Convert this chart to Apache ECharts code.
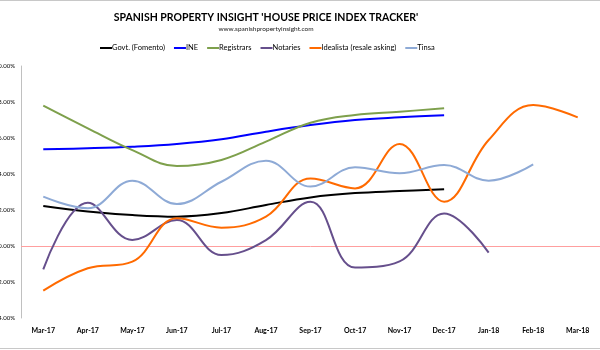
<!DOCTYPE html>
<html>
<head>
<meta charset="utf-8">
<script src="https://cdn.jsdelivr.net/npm/echarts@6/dist/echarts.min.js"></script>
<style>
html, body { margin: 0; padding: 0; background: #fff; }
#chart { width: 600px; height: 350px; }
</style>
</head>
<body>
<div id="chart"></div>
<script>
// months on the x axis
var months = ['Mar-17', 'Apr-17', 'May-17', 'Jun-17', 'Jul-17', 'Aug-17', 'Sep-17',
              'Oct-17', 'Nov-17', 'Dec-17', 'Jan-18', 'Feb-18', 'Mar-18'];

// annual change, %
var govt      = [2.22, 1.92, 1.72, 1.63, 1.83, 2.28, 2.70, 2.94, 3.05, 3.15, null, null, null];
var ine       = [5.37, 5.43, 5.52, 5.67, 5.93, 6.35, 6.72, 7.00, 7.15, 7.26, null, null, null];
var registrars = [7.80, 6.54, 5.33, 4.44, 4.78, 5.80, 6.85, 7.28, 7.46, 7.65, null, null, null];
var notaries  = [-1.30, 2.40, 0.33, 1.44, -0.50, 0.33, 2.46, -1.20, -0.85, 1.81, -0.37, null, null];
var idealista = [-2.48, -1.24, -0.87, 1.54, 1.02, 1.63, 3.75, 3.20, 5.67, 2.46, 5.89, 7.83, 7.15];
var tinsa     = [2.74, 2.10, 3.63, 2.33, 3.57, 4.74, 3.30, 4.37, 4.04, 4.50, 3.63, 4.54, null];

var names  = ['Govt. (Fomento)', 'INE', 'Registrars', 'Notaries', 'Idealista (resale asking)', 'Tinsa'];
var colors = ['#000000', '#0000ff', '#7ea04c', '#664f8c', '#ff6a00', '#8eaad6'];
var values = [govt, ine, registrars, notaries, idealista, tinsa];

var font = 'Lato, "Liberation Sans", sans-serif';

var series = values.map(function (d, i) {
    var s = {
        name: names[i],
        type: 'line',
        data: d,
        smooth: 0.4,
        symbol: 'none',
        connectNulls: false,
        lineStyle: { width: 2, color: colors[i] },
        itemStyle: { color: colors[i] },
        z: 3
    };
    if (i === 0) {
        // the pink zero line
        s.markLine = {
            silent: true,
            symbol: ['none', 'none'],
            label: { show: false },
            lineStyle: { color: '#ff9f9f', width: 1, type: 'solid' },
            data: [{ yAxis: 0 }],
            z: 1
        };
    }
    return s;
});

var chart = echarts.init(document.getElementById('chart'));
chart.setOption({
    animation: false,
    backgroundColor: '#fff',
    textStyle: { fontFamily: font },
    title: {
        text: "SPANISH PROPERTY INSIGHT 'HOUSE PRICE INDEX TRACKER'",
        subtext: 'www.spanishpropertyinsight.com',
        left: 261,
        textAlign: 'center',
        top: 7,
        itemGap: 2,
        textStyle: { fontSize: 10.5, fontWeight: 'bold', color: '#000', fontFamily: font },
        subtextStyle: { fontSize: 6.5, color: '#222', fontFamily: font }
    },
    legend: {
        data: names,
        left: 95,
        top: 39,
        icon: 'rect',
        itemWidth: 12,
        itemHeight: 2,
        itemGap: 9,
        textStyle: { fontSize: 7.5, color: '#000', padding: [0, 0, 0, -5], fontFamily: font }
    },
    grid: { left: 21, right: 0, top: 66, bottom: 32, outerBoundsMode: 'none', containLabel: false },
    xAxis: {
        type: 'category',
        data: months,
        boundaryGap: true,
        axisLine: { show: false },
        axisTick: { show: false },
        axisLabel: { fontSize: 7, fontWeight: 'bold', color: '#000', margin: 9, interval: 0 }
    },
    yAxis: {
        type: 'value',
        min: -4,
        max: 10,
        interval: 2,
        axisLine: { show: true, lineStyle: { color: '#c0c0c0', width: 1 } },
        axisTick: { show: false },
        splitLine: { show: false },
        axisLabel: {
            fontSize: 6,
            color: '#000',
            margin: 6,
            formatter: function (v) { return v.toFixed(2) + '%'; }
        }
    },
    graphic: [
        { type: 'line', shape: { x1: 0, y1: 0.5, x2: 600, y2: 0.5 }, style: { stroke: '#c8c8c8', lineWidth: 1 } },
        { type: 'line', shape: { x1: 0, y1: 348.5, x2: 600, y2: 348.5 }, style: { stroke: '#c8c8c8', lineWidth: 1 } }
    ],
    series: series
});
</script>
</body>
</html>
